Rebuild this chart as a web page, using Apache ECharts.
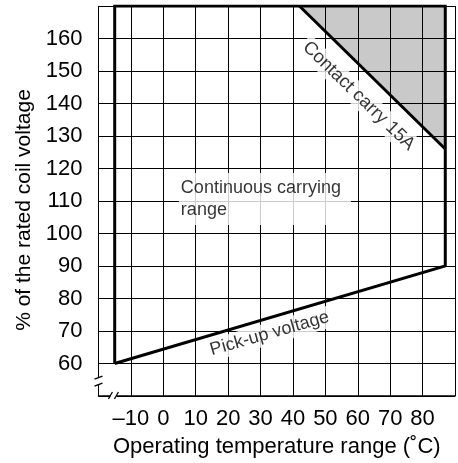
<!DOCTYPE html>
<html><head><meta charset="utf-8">
<script src="https://cdn.jsdelivr.net/npm/echarts@6/dist/echarts.min.js"></script>
<style>html,body{margin:0;padding:0;background:#fff}#c{width:458px;height:463px}</style>
</head><body><div id="c"></div>
<script>
const xMin = -20, xMax = 90, yMin = 50, yMax = 170;
const xTickLabels = [-10, 0, 10, 20, 30, 40, 50, 60, 70, 80];
const yTickLabels = [60, 70, 80, 90, 100, 110, 120, 130, 140, 150, 160];
const rangeX = [-15, -15, 87, 87, -15];
const rangeY = [60, 170, 170, 90, 60];
const contactX = [42, 87];
const contactY = [170, 126];
const shadeX = [42, 87, 87];
const shadeY = [170, 170, 126];
const noteText = ['Continuous carrying\nrange', 'Contact carry 15A', 'Pick-up voltage'];
const noteX = [4.8, 60.3, 32.8];
const noteY = [110.6, 142.3, 69.2];
const breakX = -15.4;
const breakY = 54.6;

const FONT = 'Liberation Sans, Arial, Helvetica, sans-serif';
const chart = echarts.init(document.getElementById('c'), null, {renderer: 'canvas'});

const noteStyles = [
  {rotate: 0, align: 'left', padding: [4, 10, 4, 2], lineHeight: 22, size: 18},
  {rotate: -44, align: 'center', padding: [1, 3, 1, 3], lineHeight: 20, size: 18.5},
  {rotate: 16, align: 'center', padding: [1, 3, 1, 3], lineHeight: 20, size: 18}
];

chart.setOption({
  animation: false,
  grid: {left: 98.5, right: 0, top: 6, bottom: 67, containLabel: false},
  xAxis: {
    type: 'value', min: xMin, max: xMax, interval: 10,
    name: 'Operating temperature range (˚C)', nameLocation: 'middle', nameGap: 40,
    nameTextStyle: {fontFamily: FONT, fontSize: 22, color: '#000'},
    axisLine: {show: true, lineStyle: {color: '#000', width: 1.5}},
    axisTick: {show: false},
    axisLabel: {
      margin: 12, fontFamily: FONT, fontSize: 22, color: '#000',
      formatter: v => xTickLabels.includes(v) ? String(v).replace('-', '–') : ''
    },
    splitLine: {show: true, lineStyle: {color: '#000', width: 1}}
  },
  yAxis: {
    type: 'value', min: yMin, max: yMax, interval: 10,
    name: '% of the rated coil voltage', nameLocation: 'middle', nameGap: 64,
    nameTextStyle: {fontFamily: FONT, fontSize: 21, color: '#000', padding: [0, 18, 0, 0]},
    axisLine: {show: true, lineStyle: {color: '#000', width: 1}},
    axisTick: {show: false},
    axisLabel: {
      margin: 16, fontFamily: FONT, fontSize: 22, color: '#000',
      formatter: v => yTickLabels.includes(v) ? String(v) : ''
    },
    splitLine: {show: true, lineStyle: {color: '#000', width: 1}}
  },
  series: [
    {
      type: 'custom', silent: true, z: 1,
      data: [[shadeX[0], shadeY[0]]],
      renderItem: (params, api) => ({
        type: 'polygon',
        shape: {points: shadeX.map((x, i) => api.coord([x, shadeY[i]]))},
        style: {fill: 'rgba(0,0,0,0.21)'}
      })
    },
    {
      type: 'line', silent: true, z: 3, symbol: 'none',
      data: rangeX.map((x, i) => [x, rangeY[i]]),
      lineStyle: {color: '#000', width: 3, join: 'miter'}
    },
    {
      type: 'line', silent: true, z: 3, symbol: 'none',
      data: contactX.map((x, i) => [x, contactY[i]]),
      lineStyle: {color: '#000', width: 3}
    },
    {
      type: 'scatter', silent: true, z: 4, symbolSize: 0,
      data: noteText.map((t, i) => ({
        value: [noteX[i], noteY[i]],
        label: {
          show: true, formatter: t, position: 'inside',
          rotate: noteStyles[i].rotate, align: noteStyles[i].align, verticalAlign: 'middle',
          fontFamily: FONT, fontSize: noteStyles[i].size, color: '#000', backgroundColor: '#fff',
          padding: noteStyles[i].padding, lineHeight: noteStyles[i].lineHeight
        }
      }))
    }
  ]
});

// axis break marks
const py = chart.convertToPixel({gridIndex: 0}, [xMin, breakY]);
const px = chart.convertToPixel({gridIndex: 0}, [breakX, yMin]);
const g = [];
g.push({type: 'rect', shape: {x: py[0] - 2, y: py[1] - 3, width: 4, height: 6}, style: {fill: '#fff'}, z: 10});
g.push({type: 'line', shape: {x1: py[0] - 4, y1: py[1] - 2, x2: py[0] + 4, y2: py[1] - 5}, style: {stroke: '#000', lineWidth: 1.3}, z: 11});
g.push({type: 'line', shape: {x1: py[0] - 4, y1: py[1] + 5, x2: py[0] + 4, y2: py[1] + 2}, style: {stroke: '#000', lineWidth: 1.3}, z: 11});
g.push({type: 'rect', shape: {x: px[0] - 3, y: px[1] - 3, width: 6, height: 6}, style: {fill: '#fff'}, z: 10});
g.push({type: 'line', shape: {x1: px[0] - 5, y1: px[1] + 3, x2: px[0] - 1, y2: px[1] - 4}, style: {stroke: '#000', lineWidth: 1.3}, z: 11});
g.push({type: 'line', shape: {x1: px[0] + 1, y1: px[1] + 3, x2: px[0] + 5, y2: px[1] - 4}, style: {stroke: '#000', lineWidth: 1.3}, z: 11});
chart.setOption({graphic: g});
</script>
</body></html>
